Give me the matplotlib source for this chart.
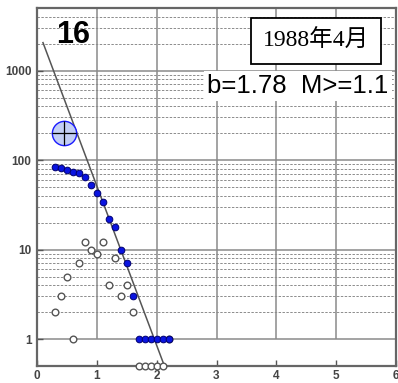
import numpy as np
import matplotlib
matplotlib.use("Agg")
import matplotlib.pyplot as plt

# Data
mags = [0.3, 0.4, 0.5, 0.6, 0.7, 0.8, 0.9, 1.0, 1.1, 1.2, 1.3, 1.4, 1.5, 1.6,
        1.7, 1.8, 1.9, 2.0, 2.1, 2.2]
noncum = [2, 3, 5, 1, 7, 12, 10, 9, 12, 4, 8, 3, 4, 2, 0, 0, 0, 0, 0, 1]
cum = [83, 81, 78, 73, 72, 65, 53, 43, 34, 22, 18, 10, 7, 3, 1, 1, 1, 1, 1, 1]
b_value = 1.78
a_value = 3.49
m_fit_start = 0.1
mc = 1.1
big_event_m = 0.45
big_event_n = 200
panel_label = "16"
date_label = "1988年4月"
x_ticks = [0, 1, 2, 3, 4, 5, 6]
y_ticks = [1, 10, 100, 1000]
y_tick_labels = ["1", "10", "100", "1000"]

W, H = 398, 383
fig = plt.figure(figsize=(W / 100, H / 100), dpi=100)
ax = fig.add_axes([37 / W, 17 / H, 359 / W, 358 / H])
ymin, ymax = 0.5, 5000
ax.set_yscale("log")
ax.set_xlim(0, 6)
ax.set_ylim(ymin, ymax)

# grid
for dec in [1, 10, 100, 1000]:
    for k in range(2, 10):
        v = dec * k
        if v < ymax:
            ax.axhline(v, color="#8c8c8c", lw=0.7, ls=(0, (2.5, 1.5)), zorder=1)
for v in y_ticks:
    ax.axhline(v, color="#8a8a8a", lw=1.1, zorder=1.2)
ax.vlines(x_ticks[1:-1], 1, ymax, color="#8a8a8a", lw=1.1, zorder=1.2)

# fit line
m_end = (a_value - np.log10(ymin)) / b_value
mm = np.array([m_fit_start, m_end])
ax.plot(mm, 10 ** (a_value - b_value * mm), color="#555555", lw=1.1, zorder=3)

# non-cumulative (zeros drawn at axis floor)
nc = np.array(noncum, dtype=float)
nc_plot = np.where(nc > 0, nc, ymin)
ax.plot(mags, nc_plot, "o", mfc="white", mec="#555555", mew=1.0, ms=4.8,
        ls="none", zorder=4, clip_on=False)
# cumulative
ax.plot(mags, cum, "o", mfc="#0a14e0", mec="#000070", mew=0.7, ms=4.8,
        ls="none", zorder=5)

# big event
ax.plot([big_event_m], [big_event_n], "o", ms=17.5, mfc="#c3cff5", mec="#1a1aff",
        mew=1.0, zorder=6)
ax.plot([big_event_m], [big_event_n], "+", ms=17.5, color="black", mew=0.9, zorder=7)

# ticks
ax.set_xticks(x_ticks)
ax.set_xticklabels([str(t) for t in x_ticks])
ax.set_yticks(y_ticks)
ax.set_yticklabels(y_tick_labels)
ax.yaxis.set_minor_locator(matplotlib.ticker.NullLocator())
ax.tick_params(axis="both", direction="in", length=4, width=1.0, color="#555555",
               labelsize=8.5, labelcolor="#444444")
ax.tick_params(axis="x", pad=3)
ax.tick_params(axis="y", pad=4)
for lab in ax.get_xticklabels() + ax.get_yticklabels():
    lab.set_fontweight("bold")
    lab.set_family(["Liberation Sans", "DejaVu Sans"])
for s in ax.spines.values():
    s.set_color("#666666")
    s.set_linewidth(1.6)

# texts
ax.text(0.6, 2500, panel_label, fontsize=22, fontweight="bold",
        family=["Liberation Sans", "DejaVu Sans"], ha="center", va="center",
        zorder=8)
ax.text(4.67, 2140, date_label, fontsize=17,
        family=["Liberation Serif", "Noto Sans CJK JP"], ha="center", va="center",
        zorder=8,
        bbox=dict(boxstyle="square,pad=0.5", fc="white", ec="black", lw=1.3))
ax.text(4.36, 671, f"b={b_value:.2f}  M>={mc}", fontsize=18.5,
        family=["Liberation Sans", "DejaVu Sans"], ha="center", va="center",
        zorder=8,
        bbox=dict(boxstyle="square,pad=0.12", fc="white", ec="none"))

fig.savefig("out.png", dpi=100)
